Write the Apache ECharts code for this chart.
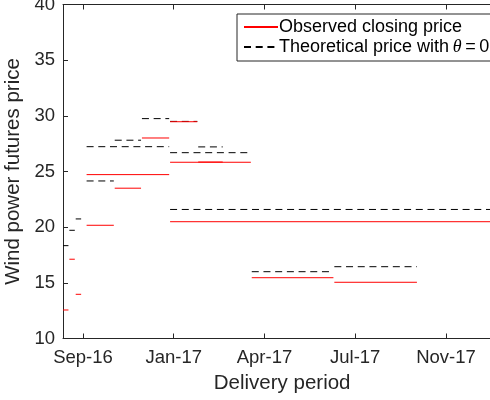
<!DOCTYPE html>
<html>
<head>
<meta charset="utf-8">
<script src="https://cdn.jsdelivr.net/npm/echarts@6/dist/echarts.min.js"></script>
<style>html,body{margin:0;padding:0;background:#fff}#c{width:490px;height:400px}</style>
</head>
<body>
<div id="c"></div>
<script>
// Delivery periods (weeks, months, quarters, year)
const periodStart = ['2016-09-05','2016-09-12','2016-09-19','2016-10-01','2016-10-01','2016-11-01','2016-12-01','2017-01-01','2017-01-01','2017-02-01','2017-01-01','2017-04-01','2017-07-01'];
const periodEnd   = ['2016-09-11','2016-09-18','2016-09-25','2016-10-31','2016-12-31','2016-11-30','2016-12-31','2017-01-31','2017-03-31','2017-02-28','2017-12-31','2017-06-30','2017-09-30'];
const observed    = [12.56, 17.12, 13.97, 20.17, 24.72, 23.50, 28.01, 29.47, 25.83, 25.85, 20.49, 15.46, 15.05];
const theoretical = [18.34, 19.72, 20.74, 24.15, 27.23, 27.81, 29.75, 29.50, 26.69, 27.21, 21.59, 16.00, 16.45];
const tickDates   = ['2016-09-27','2017-01-05','2017-04-15','2017-07-24','2017-11-01'];
const tickLabels  = ['Sep-16','Jan-17','Apr-17','Jul-17','Nov-17'];
const xStart = '2016-09-05', xEnd = '2018-01-01';
const obsName = 'Observed closing price';
const theoName = 'Theoretical price with θ = 0';

function day(s){ const p = s.split('-').map(Number); return Date.UTC(p[0], p[1]-1, p[2]) / 864e5; }
const tickDays = tickDates.map(day);
const labelMap = {}; tickDays.forEach((d,i)=>{ labelMap[d] = tickLabels[i]; });
const xMin = day(xStart), xMax = day(xEnd);
const pxPerDay = 0.9075;

const FONT = 'Liberation Sans, Arial, Helvetica, sans-serif';
const AX = '#262626';

function segData(vals){
  const out = [];
  periodStart.forEach((s,i)=>{
    out.push([day(s), vals[i]]);
    out.push([day(periodEnd[i]), vals[i]]);
    out.push([day(periodEnd[i]), '-']);
  });
  return out;
}

const series = [
  { name: obsName, type: 'line', symbol: 'none', showSymbol: false, silent: true, animation: false,
    connectNulls: false, data: segData(observed),
    color: '#ff0000', lineStyle: { color: '#ff0000', width: 1 }, itemStyle: { color: '#ff0000' }, z: 3 },
  { name: theoName, type: 'line', symbol: 'none', showSymbol: false, silent: true, animation: false,
    connectNulls: false, data: segData(theoretical),
    color: '#000000', lineStyle: { color: '#000000', width: 1, type: [7, 4.7] }, itemStyle: { color: '#000000' }, z: 2 }
];

const xCommon = {
  type: 'value', min: xMin, max: xMax,
  axisLine: { show: true, onZero: false, lineStyle: { color: AX, width: 1 } },
  axisTick: { show: true, inside: true, length: 5, customValues: tickDays, lineStyle: { color: AX } },
  splitLine: { show: false }
};

const chart = echarts.init(document.getElementById('c'), null, { renderer: 'canvas' });
chart.setOption({
  animation: false,
  backgroundColor: '#fff',
  grid: { left: 63, top: 4.5, width: (xMax - xMin) * pxPerDay, height: 334, containLabel: false, outerBoundsMode: 'none' },
  legend: {
    show: true,
    data: [obsName, theoName],
    orient: 'vertical', left: 237, top: 14,
    backgroundColor: '#fff', borderColor: AX, borderWidth: 1,
    padding: [3, 3, 4, 6], itemGap: 0,
    itemWidth: 34, itemHeight: 14,
    selectedMode: false,
    itemStyle: { opacity: 0 },
    lineStyle: { opacity: 1 },
    textStyle: { fontFamily: FONT, fontSize: 18, color: '#000', lineHeight: 20, padding: [0,0,0,-4],
      rich: {
        i: { fontFamily: 'Liberation Serif, Times New Roman, serif', fontStyle: 'italic', fontSize: 18, color: '#000', lineHeight: 20 },
        sp: { fontFamily: FONT, fontSize: 13, lineHeight: 20 }
      } },
    formatter: function(n){ return n === theoName ? 'Theoretical price with{sp| }{i|θ}{sp| }={sp| }0' : n; }
  },
  xAxis: [
    Object.assign({}, xCommon, {
      position: 'bottom',
      name: 'Delivery period', nameLocation: 'middle', nameGap: 34,
      nameTextStyle: { fontFamily: FONT, fontSize: 20.5, color: AX },
      axisLabel: { show: true, customValues: tickDays, margin: 10, fontFamily: FONT, fontSize: 18.5, color: AX,
        formatter: function(v){ return labelMap[v] || ''; } }
    }),
    Object.assign({}, xCommon, { position: 'top', axisLabel: { show: false } })
  ],
  yAxis: {
    type: 'value', min: 10, max: 40, interval: 5,
    name: 'Wind power futures price', nameLocation: 'middle', nameGap: 20,
    nameTextStyle: { fontFamily: FONT, fontSize: 20.5, color: AX },
    axisLine: { show: true, onZero: false, lineStyle: { color: AX, width: 1 } },
    axisTick: { show: true, inside: true, length: 5, lineStyle: { color: AX } },
    axisLabel: { margin: 8, fontFamily: FONT, fontSize: 18.5, color: AX },
    splitLine: { show: false }
  },
  series: series
});
</script>
</body>
</html>
